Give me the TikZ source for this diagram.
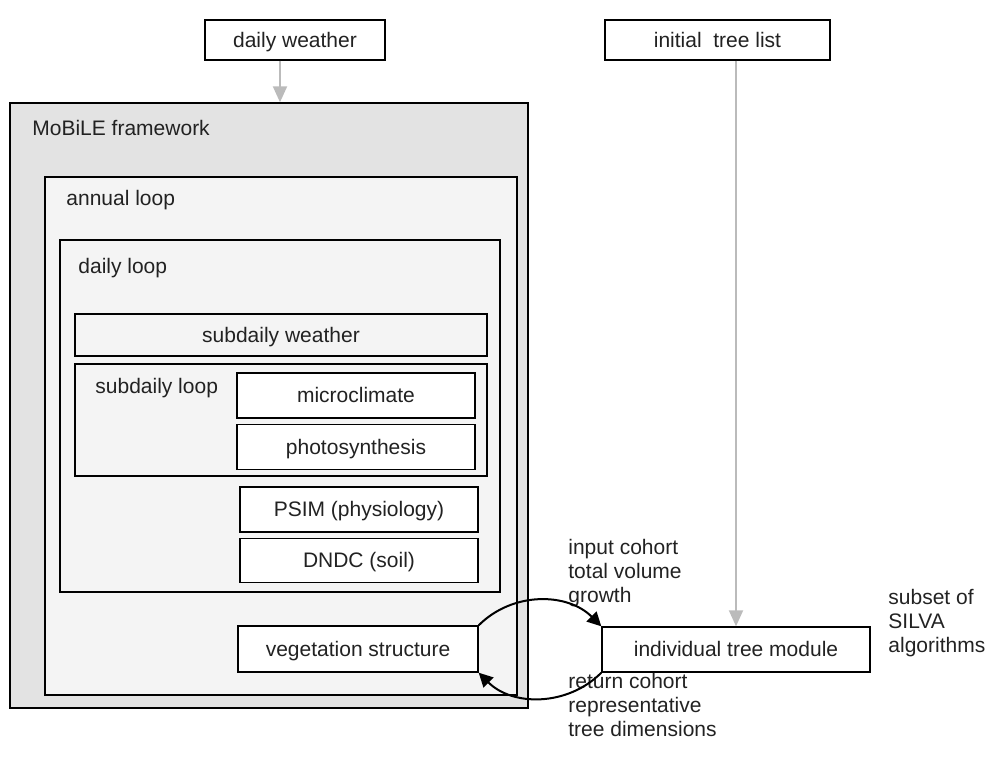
\documentclass[tikz,border=0pt]{standalone}
\usepackage{fontspec}
\setmainfont{Liberation Sans}
\usetikzlibrary{positioning,fit,arrows.meta}
\definecolor{framegray}{HTML}{E3E3E3}
\definecolor{loopgray}{HTML}{F4F4F4}
\definecolor{feedgray}{HTML}{BBBBBB}
\definecolor{textgray}{HTML}{222222}
\tikzset{
  frame/.style={draw=black, line width=0.7pt, inner sep=0pt},
  module/.style={draw=black, line width=0.7pt, fill=white, inner sep=0pt,
    minimum width=119pt, minimum height=22.5pt, text=textgray,
    text height=9pt, text depth=1.6pt},
  caption/.style={anchor=west, inner sep=0pt, text=textgray},
  notes/.style={anchor=west, inner sep=0pt, align=left, text=textgray},
  feed/.style={draw=feedgray, line width=1pt, -{Triangle[length=8pt,width=7pt]}},
  exchange/.style={draw=black, line width=1pt, -{Triangle[length=7pt,width=7pt]}}
}

\begin{document}
\begin{tikzpicture}[x=0.5pt, y=-0.5pt, font=\fontsize{10.5}{12}\selectfont]
    \useasboundingbox (0,0) rectangle (989,766);

    % inputs
    \node[module, minimum width=90pt, minimum height=20pt] (dw) at (295,40) {daily weather};
    \node[module, minimum width=112.5pt, minimum height=20pt] (itl) at (717.5,40) {initial~ tree list};

    % nested loops
    \node[frame, fill=framegray, fit={(10,103) (528,708)}] (fw) {};
    \node[caption] at (32,128) {MoBiLE framework};
    \node[frame, fill=loopgray, fit={(45,177) (517,695)}] (al) {};
    \node[caption] at (66,200) {annual loop};
    \node[frame, fill=loopgray, fit={(60,240) (500,592)}] (dl) {};
    \node[caption] at (78,268) {daily loop};
    \node[module, fill=loopgray, minimum width=206pt, minimum height=21pt] (sw) at (281,335) {subdaily weather};
    \node[frame, fill=loopgray, fit={(75,364) (487,476)}] (sl) {};
    \node[caption] at (95,388) {subdaily loop};

    % modules
    \node[module] (mc) at (356,395.5) {microclimate};
    \node[module, below=2.5pt of mc] (ps) {photosynthesis};
    \node[module] (psim) at (359,509.5) {PSIM (physiology)};
    \node[module, minimum height=22pt, below=2.5pt of psim] (dndc) {DNDC (soil)};
    \node[module, minimum width=120pt, minimum height=23pt] (vs) at (358,649) {vegetation structure};
    \node[module, minimum width=134pt] (itm) at (736,649.5) {individual tree module};

    % notes
    \node[notes] (nin) at (568,573) {input cohort\\total volume\\growth};
    \node[notes] (nret) at (568,705) {return cohort\\representative\\tree dimensions};
    \node[notes] (nsub) at (888,623) {subset of\\SILVA\\algorithms};

    % connectors
    \draw[feed] ([xshift=-7.5pt]dw.south) -- ([xshift=-7.5pt]dw.south |- fw.north);
    \draw[feed] (itm.north |- itl.south) -- (itm.north);
    \draw[exchange] (vs.north east) to[out=45, in=135] (itm.north west);
    \draw[exchange] (itm.south west) to[out=-135, in=-45] (vs.south east);
\end{tikzpicture}
\end{document}
